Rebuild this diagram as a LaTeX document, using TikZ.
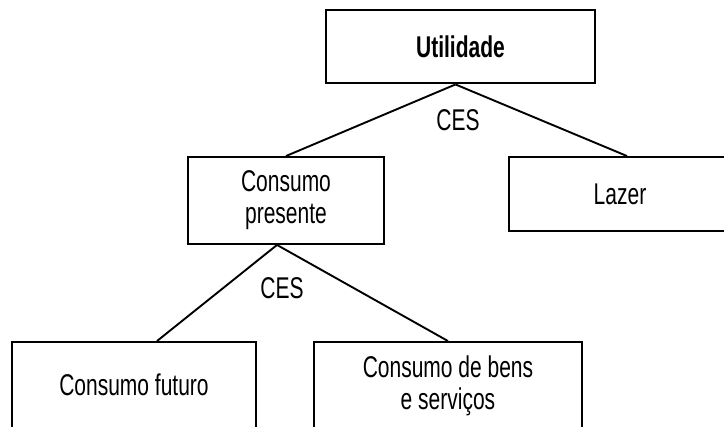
\documentclass[tikz,border=0pt]{standalone}
\usepackage{fontspec}
\setmainfont[FakeStretch=0.70]{Liberation Sans}
\usetikzlibrary{positioning,calc}

\begin{document}
\begin{tikzpicture}[x=1pt,y=1pt,
  box/.style={draw,line width=1.9pt,align=center,
    font=\fontsize{30}{32}\selectfont,inner sep=0pt},
  link/.style={line width=1.9pt},
  lbl/.style={font=\fontsize{30}{32}\selectfont,inner sep=0pt}]
  \useasboundingbox (0,0) rectangle (724,427);
  \node[box,line width=2.9pt,minimum width=269pt,minimum height=73pt,
    font=\fontsize{30}{32}\selectfont\bfseries] (util) at (460.5,380.5) {Utilidade};
  \node[box,minimum width=196pt,minimum height=87pt] (pres) at (286,226.5) {Consumo\\presente};
  \node[box,minimum width=222pt,minimum height=74pt] (lazer) at (620,233) {Lazer};
  \node[box,minimum width=244pt,minimum height=86pt] (fut) at (134,42) {Consumo futuro};
  \node[box,minimum width=268pt,minimum height=88pt] (bens) at (448,41) {Consumo de bens\\e servi\c{c}os};
  \node[lbl] (ces1) at (458,307) {CES};
  \node[lbl] (ces2) at (282,139) {CES};
  % ramos
  \coordinate (top) at ([xshift=-5pt]util.south);
  \coordinate (mid) at ([xshift=-9pt]pres.south);
  \draw[link] (top) -- (pres.north);
  \draw[link] (top) -- ([xshift=7pt]lazer.north);
  \draw[link] (mid) -- ([xshift=23pt]fut.north);
  \draw[link] (mid) -- (bens.north);
\end{tikzpicture}
\end{document}
